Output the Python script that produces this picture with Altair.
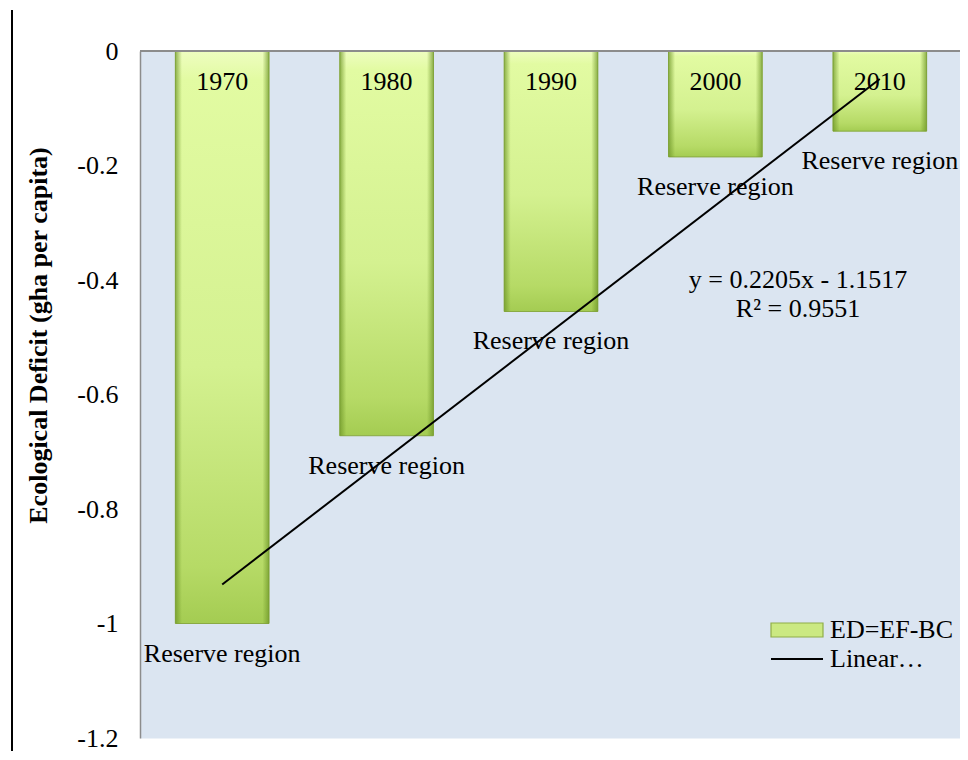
import altair as alt
import pandas as pd

years = ["1970", "1980", "1990", "2000", "2010"]
idx = [1, 2, 3, 4, 5]
deficit = [-1.0, -0.672, -0.455, -0.185, -0.14]
region_labels = ["Reserve region"] * 5
y_ticks = [0, -0.2, -0.4, -0.6, -0.8, -1.0, -1.2]
eq_lines = ["y = 0.2205x - 1.1517", "R² = 0.9551"]
eq_y = [-0.4, -0.45]
bar_series = ["ED=EF-BC"]
line_series = ["Linear…"]

df = pd.DataFrame({"year": years, "idx": idx, "deficit": deficit, "label": region_labels})
eq_df = pd.DataFrame({"text": eq_lines, "y": eq_y})

FONT = "Liberation Serif"

xenc = alt.X("year:N", scale=alt.Scale(paddingInner=0.43, paddingOuter=0.215, range=[0, 822]), axis=None)
yscale = alt.Scale(domain=[-1.2, 0], nice=False, zero=False)
yaxis = alt.Axis(
    values=y_ticks, labelExpr="toString(round(datum.value*10)/10)",
    ticks=False, grid=False, domain=True, domainColor="#8c8c8c", domainWidth=1.5,
    labelPadding=22, labelFont=FONT, labelFontSize=26, labelColor="black",
    labelFlush=False, labelBound=False,
    title="Ecological Deficit (gha per capita)", titleFont=FONT, titleFontSize=26,
    titleFontWeight="bold", titleColor="black", titleX=-102, titleY=284,
    titleAlign="center", titleBaseline="middle",
)

bar_legend = alt.Legend(
    title=None, orient="none", legendX=630, legendY=565,
    labelFont=FONT, labelFontSize=26, labelColor="black", labelOffset=32,
    symbolSize=676, symbolType="M-1,-0.54H3V0.54H-1Z",
    symbolStrokeColor="#8fae48", symbolStrokeWidth=1.2, symbolOpacity=1,
)
line_legend = alt.Legend(
    title=None, orient="none", legendX=630, legendY=594,
    labelFont=FONT, labelFontSize=26, labelColor="black", labelOffset=32,
    symbolSize=676, symbolType="M-1,0H3", symbolStrokeWidth=2, symbolOpacity=1,
)

vgrad = {"gradient": "linear", "x1": 0, "y1": 0, "x2": 0, "y2": 1,
         "stops": [{"offset": 0, "color": "#eefdc0"},
                   {"offset": 0.05, "color": "#e2fba2"},
                   {"offset": 0.55, "color": "#d4f190"},
                   {"offset": 0.9, "color": "#b6da66"},
                   {"offset": 1, "color": "#a4cc52"}]}
hgrad = {"gradient": "linear", "x1": 0, "y1": 0, "x2": 1, "y2": 0,
         "stops": [{"offset": 0, "color": "rgba(110,150,40,0.75)"},
                   {"offset": 0.07, "color": "rgba(110,150,40,0)"},
                   {"offset": 0.93, "color": "rgba(110,150,40,0)"},
                   {"offset": 1, "color": "rgba(110,150,40,0.75)"}]}

base = alt.Chart(df)

bars = base.mark_bar(fill=vgrad, stroke="#8aaa44", strokeWidth=1).encode(
    x=xenc,
    y=alt.Y("deficit:Q", scale=yscale, axis=yaxis),
)
bevel = base.mark_bar(fill=hgrad, strokeWidth=0).encode(x=xenc, y="deficit:Q")

legend_bar = base.transform_calculate(series="'ED=EF-BC'").mark_bar(strokeWidth=0).encode(
    x="year:N", y=alt.datum(0), y2=alt.datum(0),
    fill=alt.Fill("series:N", scale=alt.Scale(domain=bar_series, range=["#cbe982"]), legend=bar_legend),
)

top_rule = base.mark_rule(color="#8c8c8c", strokeWidth=1.5).encode(y=alt.datum(0))

trend = base.transform_regression("idx", "deficit").transform_calculate(
    year="toString(1960 + datum.idx*10)", series="'Linear…'"
).mark_line(strokeWidth=2).encode(
    x="year:N", y="deficit:Q",
    stroke=alt.Stroke("series:N", scale=alt.Scale(domain=line_series, range=["#000000"]), legend=line_legend),
)

year_text = base.mark_text(dy=31, font=FONT, fontSize=26, color="black", baseline="middle").encode(
    x="year:N", y=alt.datum(0), text="year:N")
region_text = base.mark_text(dy=30, font=FONT, fontSize=26, color="black", baseline="middle").encode(
    x="year:N", y="deficit:Q", text="label:N")

eq_text = alt.Chart(eq_df).mark_text(font=FONT, fontSize=26, color="black", baseline="middle", align="center").encode(
    x=alt.value(658), y="y:Q", text="text:N")

left_line = base.mark_rule(color="black", strokeWidth=1.5).encode(
    x=alt.value(-128), y=alt.value(-41), y2=alt.value(700))

chart = alt.layer(
    bars, bevel, legend_bar, top_rule, trend, year_text, region_text, eq_text, left_line
).resolve_scale(fill="independent", stroke="independent").properties(
    width=820, height=687,
    autosize=alt.AutoSizeParams(type="none"),
    padding={"left": 132, "top": 43, "right": 0, "bottom": 14},
    background="white",
).configure_view(fill="#dbe5f1", stroke="transparent")

chart.save("out.html", embed_options={"renderer": "svg", "actions": False})
